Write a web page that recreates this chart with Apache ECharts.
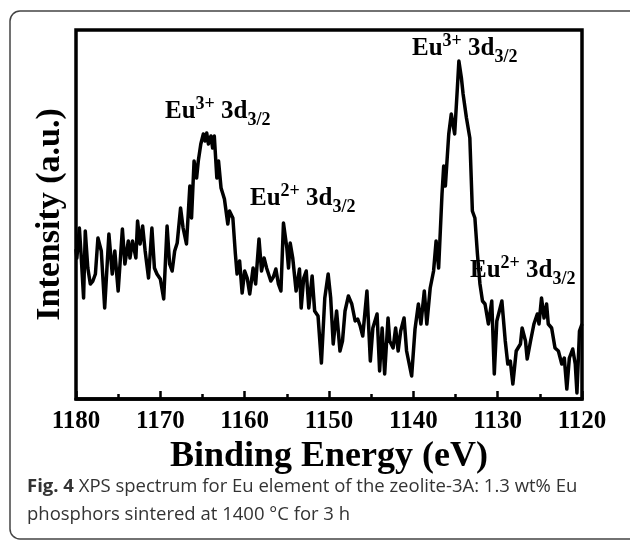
<!DOCTYPE html>
<html>
<head>
<meta charset="utf-8">
<script src="https://cdn.jsdelivr.net/npm/echarts@6/dist/echarts.min.js"></script>
<style>
  html, body { margin: 0; padding: 0; background: #fff; }
  #chart { width: 630px; height: 542px; }
</style>
</head>
<body>
<div id="chart"></div>
<script>
const energy = [
  1180.0, 1179.9, 1179.6, 1179.4, 1179.1, 1178.9, 1178.6, 1178.3, 1178.0, 1177.7,
  1177.4, 1177.0, 1176.6, 1176.1, 1175.7, 1175.4, 1175.0, 1174.5, 1174.2, 1173.8,
  1173.6, 1173.3, 1172.9, 1172.7, 1172.4, 1172.1, 1171.8, 1171.4, 1171.0, 1170.7,
  1170.4, 1170.0, 1169.6, 1169.2, 1168.9, 1168.6, 1168.3, 1168.0, 1167.6, 1167.3,
  1166.9, 1166.5, 1166.3, 1166.0, 1165.7, 1165.5, 1165.2, 1164.9, 1164.7, 1164.5,
  1164.3, 1164.0, 1163.8, 1163.6, 1163.3, 1163.1, 1162.8, 1162.4, 1162.0, 1161.8,
  1161.4, 1161.1, 1160.9, 1160.6, 1160.3, 1160.0, 1159.7, 1159.4, 1159.0, 1158.7,
  1158.3, 1158.0, 1157.7, 1157.4, 1156.9, 1156.6, 1156.3, 1156.0, 1155.7, 1155.4,
  1155.0, 1154.8, 1154.6, 1154.3, 1153.9, 1153.5, 1153.3, 1153.0, 1152.7, 1152.4,
  1152.0, 1151.7, 1151.3, 1150.9, 1150.5, 1150.1, 1149.8, 1149.5, 1149.1, 1148.7,
  1148.4, 1148.1, 1147.7, 1147.3, 1146.9, 1146.6, 1146.3, 1146.0, 1145.5, 1145.1,
  1144.8, 1144.3, 1144.0, 1143.7, 1143.4, 1143.0, 1142.8, 1142.4, 1142.1, 1141.8,
  1141.5, 1141.1, 1140.8, 1140.2, 1139.8, 1139.4, 1139.1, 1138.7, 1138.4, 1138.0,
  1137.6, 1137.3, 1137.0, 1136.6, 1136.4, 1136.2, 1135.8, 1135.5, 1135.1, 1134.8,
  1134.6, 1134.3, 1134.1, 1133.7, 1133.3, 1133.0, 1132.7, 1132.4, 1132.1, 1131.8,
  1131.5, 1131.1, 1130.7, 1130.4, 1130.1, 1129.5, 1129.1, 1128.8, 1128.5, 1128.2,
  1127.8, 1127.3, 1127.1, 1126.7, 1126.5, 1126.1, 1125.7, 1125.3, 1125.1, 1124.8,
  1124.5, 1124.2, 1124.0, 1123.6, 1123.2, 1122.8, 1122.4, 1122.1, 1121.8, 1121.5,
  1121.1, 1120.8, 1120.6, 1120.3, 1120.0
];
// intensity (a.u.)
const intensity = [
  150, 141, 171, 145, 101, 168, 131, 115, 118, 125,
  161, 148, 91, 165, 125, 148, 108, 170, 135, 158,
  141, 158, 141, 178, 155, 173, 148, 121, 171, 131,
  125, 120, 100, 173, 135, 128, 148, 156, 191, 171,
  155, 213, 181, 238, 221, 238, 255, 265, 258, 266,
  255, 263, 251, 263, 221, 238, 211, 200, 175, 188,
  181, 145, 125, 138, 106, 128, 121, 105, 131, 115,
  160, 128, 141, 131, 118, 122, 130, 115, 108, 176,
  151, 131, 156, 141, 108, 130, 91, 121, 128, 91,
  123, 88, 83, 36, 101, 125, 101, 55, 88, 48,
  58, 88, 103, 95, 78, 80, 73, 63, 108, 38,
  71, 85, 28, 71, 25, 81, 58, 51, 71, 48,
  68, 81, 48, 23, 70, 95, 75, 108, 75, 111,
  128, 158, 131, 205, 233, 213, 265, 285, 265, 308,
  338, 321, 305, 281, 261, 188, 181, 145, 115, 98,
  95, 75, 98, 25, 78, 98, 58, 35, 38, 15,
  48, 55, 71, 58, 40, 58, 75, 85, 75, 101,
  81, 95, 75, 71, 51, 48, 35, 41, 10, 41,
  50, 35, 6, 68, 75
];

const xTicks = { min: 1120, max: 1180, step: 10 };
const yRange = { min: 0, max: 369 };

const peakLabels = [
  { ion: "Eu", charge: "3+", level: "3d", sub: "3/2", left: 412, top: 32 },
  { ion: "Eu", charge: "3+", level: "3d", sub: "3/2", left: 165, top: 95 },
  { ion: "Eu", charge: "2+", level: "3d", sub: "3/2", left: 250, top: 182 },
  { ion: "Eu", charge: "2+", level: "3d", sub: "3/2", left: 470, top: 254 }
];

const serif = "'Liberation Serif', 'Times New Roman', serif";
const sans = "'Open Sans', sans-serif";
const richPeak = {
  m: { fontFamily: serif, fontWeight: "bold", fontSize: 25, lineHeight: 34, color: "#000" },
  sup: { fontFamily: serif, fontWeight: "bold", fontSize: 18, lineHeight: 16, verticalAlign: "top", color: "#000" },
  sub: { fontFamily: serif, fontWeight: "bold", fontSize: 18, lineHeight: 16, verticalAlign: "bottom", color: "#000" }
};

const chart = echarts.init(document.getElementById("chart"));

chart.setOption({
  backgroundColor: "#fff",
  animation: false,
  grid: {
    left: 76, top: 30, width: 506, height: 369,
    show: true, borderColor: "#000", borderWidth: 3.5, backgroundColor: "transparent"
  },
  xAxis: {
    type: "value",
    min: xTicks.min,
    max: xTicks.max,
    interval: xTicks.step,
    inverse: true,
    name: "Binding Energy (eV)",
    nameLocation: "middle",
    nameGap: 29,
    nameTextStyle: { fontFamily: serif, fontWeight: "bold", fontSize: 36, color: "#000" },
    axisLine: { show: true, lineStyle: { color: "#000", width: 3.5 } },
    axisTick: { show: true, inside: true, length: 8, lineStyle: { color: "#000", width: 2.5 } },
    minorTick: { show: true, splitNumber: 2, length: 5, lineStyle: { color: "#000", width: 2.5 } },
    axisLabel: {
      fontFamily: serif, fontWeight: "bold", fontSize: 25, color: "#000", margin: 10,
      formatter: v => String(v)
    },
    splitLine: { show: false }
  },
  yAxis: {
    type: "value",
    min: yRange.min,
    max: yRange.max,
    name: "Intensity (a.u.)",
    nameLocation: "middle",
    nameRotate: 90,
    nameGap: 9,
    nameTextStyle: { fontFamily: serif, fontWeight: "bold", fontSize: 34, color: "#000" },
    axisLine: { show: false },
    axisTick: { show: false },
    axisLabel: { show: false },
    splitLine: { show: false }
  },
  series: [
    {
      type: "line",
      data: energy.map((e, i) => [e, intensity[i]]),
      showSymbol: false,
      symbol: "none",
      lineStyle: { color: "#000", width: 3.5, join: "round" },
      z: 3
    }
  ],
  graphic: [
    {
      type: "rect",
      shape: { x: 10, y: 11, width: 630, height: 528, r: 10 },
      style: { fill: "none", stroke: "#444", lineWidth: 1.5 },
      silent: true
    },
    ...peakLabels.map(p => ({
      type: "text",
      left: p.left,
      top: p.top,
      z: 1,
      style: {
        text: `{m|${p.ion}}{sup|${p.charge}}{m| ${p.level}}{sub|${p.sub}}`,
        rich: richPeak
      }
    })),
    {
      type: "text",
      left: 27,
      top: 473,
      style: {
        text: "{b|Fig. 4} XPS spectrum for Eu element of the zeolite-3A: 1.3 wt% Eu\nphosphors sintered at 1400 °C for 3 h",
        fontFamily: sans,
        fontSize: 18.5,
        lineHeight: 28,
        fill: "#333",
        rich: {
          b: { fontFamily: sans, fontWeight: "bold", fontSize: 18.5, lineHeight: 28, color: "#333" }
        }
      }
    }
  ]
});
</script>
</body>
</html>
